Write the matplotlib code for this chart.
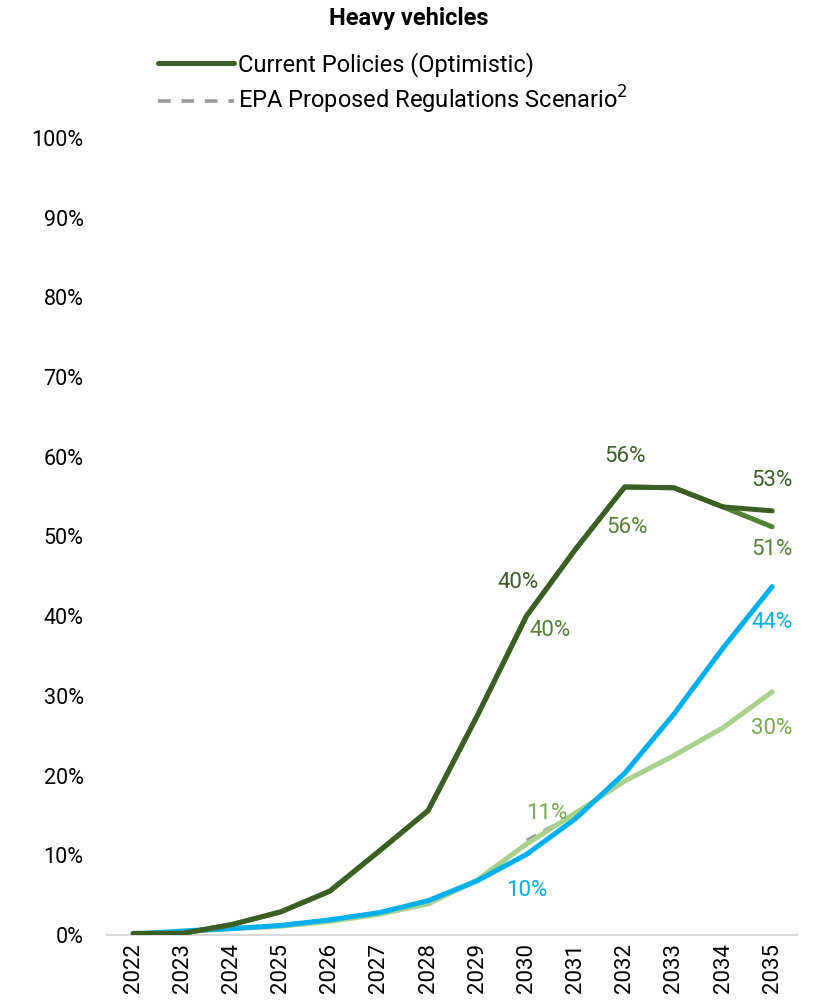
import numpy as np
import matplotlib.pyplot as plt
from matplotlib.ticker import PercentFormatter

plt.rcParams['font.family'] = ['Roboto', 'DejaVu Sans']

years = list(range(2022, 2036))
current_policies = [0.2, 0.2, 1.3, 2.9, 5.5, 10.5, 15.6, 27.5, 40.0, 48.4, 56.2, 56.1, 53.7, 53.2]
current_policies_alt = [0.2, 0.2, 1.3, 2.9, 5.5, 10.5, 15.6, 27.5, 40.0, 48.4, 56.2, 56.1, 53.7, 51.2]
epa_proposed = [None, None, None, None, None, None, None, None, 11.9, 15.3, 19.3, 22.5, 26.0, 30.5]
light_scenario = [0.1, 0.4, 0.8, 1.1, 1.7, 2.6, 3.9, 6.9, 11.4, 15.3, 19.3, 22.5, 26.0, 30.5]
blue_scenario = [0.1, 0.5, 0.8, 1.2, 1.9, 2.8, 4.3, 6.8, 10.1, 14.6, 20.3, 27.7, 36.0, 43.7]

c_dark = "#3b5e24"
c_mid = "#548235"
c_light = "#a9d18e"
c_blue = "#00b0f0"
c_gray = "#9b9b9b"

fig = plt.figure(figsize=(8.18, 10.06), dpi=100)
ax = fig.add_axes([0.131, 0.0706, 0.843, 0.7924])

epa = np.array([np.nan if v is None else v for v in epa_proposed], dtype=float)
ax.plot(years, epa, color=c_gray, lw=2.0, ls=(0, (4, 3)), zorder=1)
ax.plot(years, light_scenario, color=c_light, lw=3.6, zorder=2, solid_capstyle='round')
ax.plot(years, blue_scenario, color=c_blue, lw=3.6, zorder=3, solid_capstyle='round')
ax.plot(years, current_policies_alt, color=c_mid, lw=3.6, zorder=4, solid_capstyle='round')
ax.plot(years, current_policies, color=c_dark, lw=3.6, zorder=5, solid_capstyle='round')

def lab(series, yr, col, dx, dy):
    i = years.index(yr)
    ax.annotate(f"{series[i]:.0f}%", (yr, series[i]), xytext=(dx * 0.72, dy * 0.72),
                textcoords='offset points', ha='center', va='center',
                fontsize=16, color=col)

lab(current_policies, 2030, c_dark, -8, 34)
lab(current_policies, 2032, c_dark, 0, 30)
lab(current_policies, 2035, c_dark, 0, 30)
lab(current_policies_alt, 2030, c_mid, 24, -14)
lab(current_policies_alt, 2032, c_mid, 2, -41)
lab(current_policies_alt, 2035, c_mid, 0, -23)
lab(light_scenario, 2030, "#70ad47", 20, 31)
lab(light_scenario, 2035, "#70ad47", 0, -37)
lab(blue_scenario, 2030, c_blue, 0, -36)
lab(blue_scenario, 2035, c_blue, 0, -36)

ax.set_ylim(0, 100)
ax.set_xlim(2021.47, 2035.5)
ax.set_yticks(np.arange(0, 101, 10))
ax.yaxis.set_major_formatter(PercentFormatter(decimals=0))
ax.set_xticks(years)
ax.set_xticklabels([str(y) for y in years], rotation=90, fontsize=16)
ax.tick_params(axis='y', length=0, labelsize=15.5, pad=17)
ax.tick_params(axis='x', length=0, pad=6)
for s in ['left', 'right', 'top']:
    ax.spines[s].set_visible(False)
ax.spines['bottom'].set_color('#d9d9d9')
ax.spines['bottom'].set_linewidth(1.5)

fig.text(0.5, 1 - 19 / 1006, "Heavy vehicles", ha='center', va='center',
         fontsize=17, fontweight='bold')

h1, = ax.plot([], [], color=c_dark, lw=3.6, solid_capstyle='round')
h2, = ax.plot([], [], color=c_gray, lw=2.6, ls=(0, (3.5, 3)))
fig.legend([h1, h2], ["Current Policies (Optimistic)", "EPA Proposed Regulations Scenario$^2$"],
           loc='upper left', bbox_to_anchor=(158 / 818, 1 - 52 / 1006), frameon=False,
           fontsize=17, handlelength=3.2, handletextpad=0.2, labelspacing=0.3,
           borderaxespad=0, borderpad=0)

plt.savefig("out.png", dpi=100)
